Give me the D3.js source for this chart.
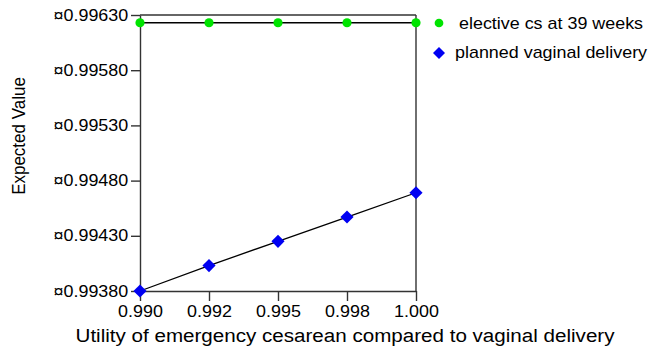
<!DOCTYPE html>
<html>
<head>
<meta charset="utf-8">
<script src="https://cdn.jsdelivr.net/npm/d3@7"></script>
<style>
  html, body { margin: 0; padding: 0; background: #fff; }
  svg text { font-family: "Liberation Sans", Arial, sans-serif; fill: #000; }
</style>
</head>
<body>
<svg id="chart" width="650" height="350"></svg>
<script>
// Utility of emergency cesarean (x) and expected value of each strategy
const utilities = [0.990, 0.9925, 0.995, 0.9975, 1.000];
const xTickLabels = ["0.990", "0.992", "0.995", "0.998", "1.000"];
const electiveCs = [0.99623, 0.99623, 0.99623, 0.99623, 0.99623];
const plannedVaginal = [0.99380, 0.99403, 0.99425, 0.99447, 0.99469];
const yTickValues = [0.99380, 0.99430, 0.99480, 0.99530, 0.99580, 0.99630];
const yTickLabels = ["¤0.99380", "¤0.99430", "¤0.99480", "¤0.99530", "¤0.99580", "¤0.99630"];
const seriesNames = ["elective cs at 39 weeks", "planned vaginal delivery"];
const seriesColors = ["#00e400", "#0000f2"];

const stretch = 1.12; // glyphs are drawn slightly wide
const svg = d3.select("#chart");
const plot = { left: 140, right: 416, top: 15, bottom: 291 };

const x = d3.scaleLinear().domain([0.990, 1.000]).range([plot.left, plot.right]);
const y = d3.scaleLinear().domain([0.99380, 0.99630]).range([plot.bottom, plot.top]);

// frame
const frameColor = "#333";
svg.append("line").attr("x1", plot.left).attr("x2", plot.right)
  .attr("y1", plot.top).attr("y2", plot.top)
  .attr("stroke", frameColor).attr("stroke-width", 1.4);
svg.append("line").attr("x1", plot.right).attr("x2", plot.right)
  .attr("y1", plot.top).attr("y2", plot.bottom)
  .attr("stroke", frameColor).attr("stroke-width", 1.4);

// y axis
const yAxis = svg.append("g")
  .attr("transform", `translate(${plot.left},0)`)
  .call(d3.axisLeft(y).tickValues(yTickValues)
    .tickFormat((d, i) => yTickLabels[i]).tickSize(9).tickPadding(1.5).tickSizeOuter(0));
yAxis.selectAll("path, line").attr("stroke", frameColor).attr("stroke-width", 1.4);
yAxis.selectAll("text").attr("font-size", 16).attr("fill", "#000")
  .attr("font-family", "Liberation Sans, Arial, sans-serif")
  .attr("transform", `scale(${stretch},1)`);

// x axis
const xAxis = svg.append("g")
  .attr("transform", `translate(0,${plot.bottom})`)
  .call(d3.axisBottom(x).tickValues(utilities)
    .tickFormat((d, i) => xTickLabels[i]).tickSize(10).tickPadding(5).tickSizeOuter(0));
xAxis.selectAll("path, line").attr("stroke", frameColor).attr("stroke-width", 1.4);
xAxis.selectAll("text").attr("font-size", 16).attr("fill", "#000")
  .attr("font-family", "Liberation Sans, Arial, sans-serif")
  .attr("transform", `scale(${stretch},1)`);

// axis titles
svg.append("text")
  .attr("transform", `translate(345,342) scale(${stretch},1)`)
  .attr("text-anchor", "middle").attr("font-size", 18.4)
  .text("Utility of emergency cesarean compared to vaginal delivery");
svg.append("text")
  .attr("transform", `translate(25,136) scale(${stretch},1) rotate(-90)`)
  .attr("text-anchor", "middle").attr("font-size", 17)
  .text("Expected Value");

// series lines
const line = d3.line().x(d => x(d[0])).y(d => y(d[1]));
const seriesData = [electiveCs, plannedVaginal].map(vals => utilities.map((u, i) => [u, vals[i]]));
seriesData.forEach(pts => {
  svg.append("path").datum(pts).attr("d", line)
    .attr("fill", "none").attr("stroke", "#000").attr("stroke-width", 1.3);
});

// markers
const circle = d3.symbol().type(d3.symbolCircle).size(66);
const diamond = d3.symbol().type(d3.symbolSquare).size(86);
svg.append("g").selectAll("path").data(seriesData[0]).join("path")
  .attr("d", circle).attr("fill", seriesColors[0])
  .attr("transform", d => `translate(${x(d[0])},${y(d[1])})`);
svg.append("g").selectAll("path").data(seriesData[1]).join("path")
  .attr("d", diamond).attr("fill", seriesColors[1])
  .attr("transform", d => `translate(${x(d[0])},${y(d[1])}) rotate(45)`);

// legend
const legend = svg.append("g");
legend.append("path").attr("d", d3.symbol().type(d3.symbolCircle).size(60))
  .attr("fill", seriesColors[0]).attr("transform", "translate(439,23)");
legend.append("text").attr("transform", `translate(459,29) scale(${stretch},1)`)
  .attr("font-size", 16).text(seriesNames[0]);
legend.append("path").attr("d", d3.symbol().type(d3.symbolSquare).size(72))
  .attr("fill", seriesColors[1]).attr("transform", "translate(439,53) rotate(45)");
legend.append("text").attr("transform", `translate(455,58) scale(${stretch},1)`)
  .attr("font-size", 16).text(seriesNames[1]);
</script>
</body>
</html>
